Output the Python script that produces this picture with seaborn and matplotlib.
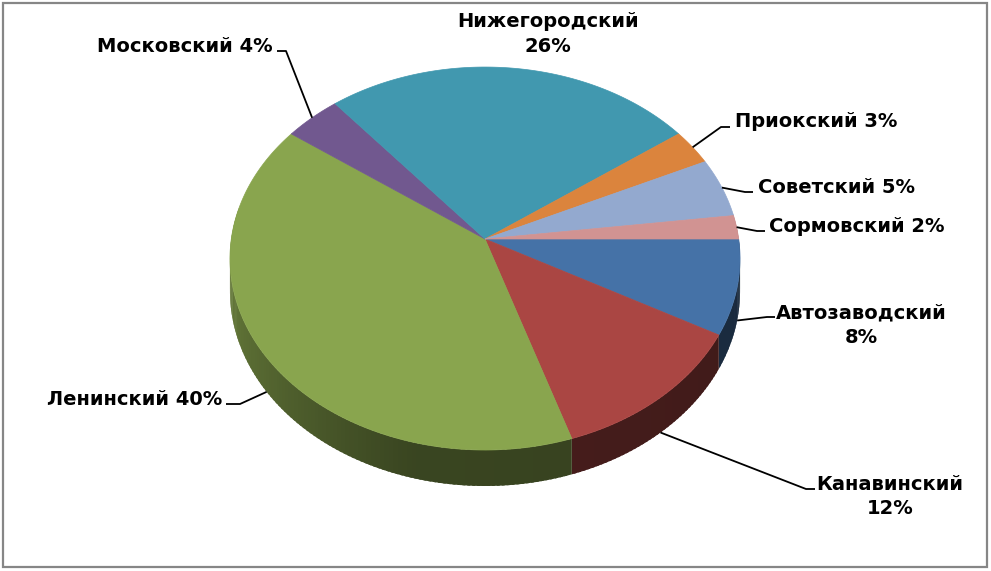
import numpy as np
import matplotlib
matplotlib.use("Agg")
import matplotlib.pyplot as plt
import matplotlib.patches as mpatches
import seaborn as sns

# district shares, clockwise from 3 o'clock
districts = ["Автозаводский", "Канавинский", "Ленинский", "Московский",
             "Нижегородский", "Приокский", "Советский", "Сормовский"]
shares = [8, 12, 40, 4, 26, 3, 5, 2]
colors = ["#4572A7", "#AA4643", "#89A54E", "#71588F",
          "#4198AF", "#DB843D", "#93A9CF", "#D19392"]

# label placement (pixels): text x, baselines, alignment, leader end/elbow
label_layout = {
    "Автозаводский": dict(x=861, y=[318, 343], ha="center", line=[(775, 317), (767, 317)]),
    "Канавинский": dict(x=890, y=[490, 514], ha="center", line=[(815, 489), (806, 489)]),
    "Ленинский": dict(x=222, y=[405], ha="right", line=[(226, 404), (240, 404)]),
    "Московский": dict(x=273, y=[52], ha="right", line=[(277, 51), (286, 51)]),
    "Нижегородский": dict(x=548, y=[27, 52], ha="center", line=None),
    "Приокский": dict(x=735, y=[127], ha="left", line=[(730, 127), (721, 127)]),
    "Советский": dict(x=758, y=[193], ha="left", line=[(753, 192), (745, 192)]),
    "Сормовский": dict(x=769, y=[232], ha="left", line=[(765, 231), (757, 231)]),
}

# tilted pie geometry in pixels
CX, CY = 485, 239
RX, RY = 253.7, 189.5
K = 0.102      # perspective
DEPTH = 32.3


def project(t, drop=0.0):
    u, v = np.cos(t), np.sin(t)
    w = 1 + K * v
    return CX + RX * u / w, CY - RY * v / w + drop / w


def side_shade(deg):
    a = deg % 360
    return np.interp(a, [180, 215, 255, 300, 360], [0.78, 0.62, 0.42, 0.40, 0.36])


sns.set_theme(style="white")
plt.rcParams["font.family"] = ["DejaVu Sans"]

fig = plt.figure(figsize=(9.91, 5.71), dpi=100)
ax = fig.add_axes([0, 0, 1, 1])
ax.set_xlim(0, 991)
ax.set_ylim(571, 0)
ax.axis("off")

bounds = np.concatenate([[0], -np.cumsum(shares) * 3.6])

for i, (name, share) in enumerate(zip(districts, shares)):
    start, stop = bounds[i], bounds[i + 1]
    base = np.array(matplotlib.colors.to_rgb(colors[i]))

    # side wall, in small overlapping steps so the shade can change
    steps = np.linspace(start, stop, max(int(abs(stop - start)), 2) + 1)
    for j, (a0, a1) in enumerate(zip(steps[:-1], steps[1:])):
        if np.sin(np.radians((a0 + a1) / 2)) > 0.15:
            continue
        a1x = a1 + (a1 - a0) * 0.6 if j < len(steps) - 2 else a1
        t = np.radians(np.linspace(a0, a1x, 4))
        xt, yt = project(t)
        xb, yb = project(t, DEPTH)
        col = base * side_shade((a0 + a1) / 2)
        ax.fill(np.r_[xt, xb[::-1]], np.r_[yt, yb[::-1]], color=col,
                lw=0, zorder=1)

    # top face
    t = np.radians(np.linspace(start, stop, 200))
    xs, ys = project(t)
    ax.fill(np.r_[CX, xs], np.r_[CY, ys], color=colors[i], lw=0.5,
            ec=colors[i], zorder=2)

    # labels
    lay = label_layout[name]
    if len(lay["y"]) == 1:
        lines = [f"{name} {share}%"]
    else:
        lines = [name, f"{share}%"]
    for txt, yb in zip(lines, lay["y"]):
        ax.text(lay["x"], yb, txt, ha=lay["ha"], va="baseline",
                fontsize=14, fontweight="bold", color="black", zorder=4)

    if lay["line"] is not None:
        mid = np.radians((start + stop) / 2)
        drop = DEPTH if np.sin(mid) < 0 else 0.0
        axx, ayy = project(mid, drop)
        (ex, ey), (bx, by) = lay["line"]
        ax.plot([axx, bx, ex], [ayy, by, ey], color="black", lw=1.3,
                solid_capstyle="butt", zorder=3)

ax.add_patch(mpatches.Rectangle((3, 3), 984, 564, fill=False,
                                ec="#868686", lw=1.6, zorder=5))

fig.savefig("out.png", dpi=100)
